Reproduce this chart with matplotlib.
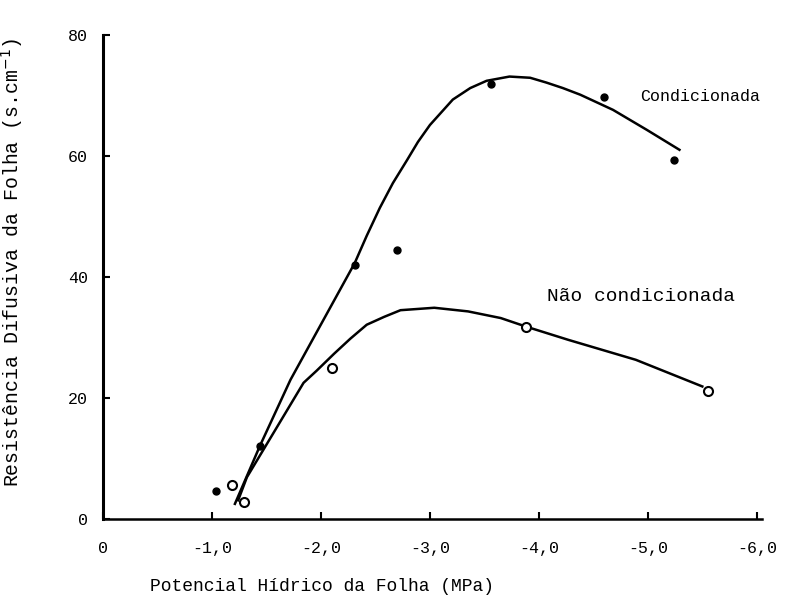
import matplotlib
matplotlib.use("Agg")
import matplotlib.pyplot as plt

plt.rcParams['font.family'] = ['Liberation Mono', 'DejaVu Sans Mono']

# pontos medidos
cond_x = [-1.04, -1.44, -2.31, -2.70, -3.56, -4.60, -5.24]
cond_y = [4.6, 12.0, 42.0, 44.4, 71.8, 69.7, 59.3]
nao_x = [-1.18, -1.29, -2.10, -3.88, -5.55]
nao_y = [5.7, 2.8, 25.0, 31.8, 21.2]

# curvas ajustadas (tracadas a mao no original)
cond_cx = [-1.21, -1.44, -1.72, -2.31, -2.42, -2.54, -2.66, -2.79, -2.89,
           -3.00, -3.11, -3.21, -3.37, -3.52, -3.73, -3.92, -4.07, -4.22,
           -4.38, -4.68, -4.99, -5.29]
cond_cy = [2.5, 12.1, 23.0, 42.3, 46.8, 51.4, 55.5, 59.3, 62.3,
           65.1, 67.3, 69.3, 71.2, 72.4, 73.1, 72.9, 72.1, 71.2,
           70.1, 67.6, 64.3, 61.0]
nao_cx = [-1.24, -1.32, -1.58, -1.84, -1.96, -2.12, -2.27, -2.42, -2.58,
          -2.73, -3.04, -3.35, -3.65, -3.88, -4.27, -4.89, -5.50]
nao_cy = [3.1, 6.9, 14.7, 22.5, 24.5, 27.3, 29.8, 32.1, 33.4,
          34.5, 34.9, 34.3, 33.2, 31.8, 29.6, 26.3, 21.9]

xticks = [0, -1, -2, -3, -4, -5, -6]
xlabels = ['0', '-1,0', '-2,0', '-3,0', '-4,0', '-5,0', '-6,0']
yticks = [0, 20, 40, 60, 80]

fig = plt.figure(figsize=(7.99, 6.0), dpi=100)
ax = fig.add_axes([0.129, 0.135, 0.825, 0.807])

ax.plot(cond_cx, cond_cy, color='black', lw=1.8, solid_joinstyle='round')
ax.plot(nao_cx, nao_cy, color='black', lw=1.8, solid_joinstyle='round')
ax.plot(cond_x, cond_y, 'o', color='black', ms=5)
ax.plot(nao_x, nao_y, 'o', mfc='white', mec='black', mew=1.5, ms=6.5)

ax.text(-4.93, 69.8, 'Condicionada', fontsize=12, va='center')
ax.text(-4.07, 36.7, 'Não condicionada', fontsize=14, va='center')

ax.set_xlim(0, -6.05)
ax.set_ylim(0, 80)
ax.set_xticks(xticks)
ax.set_xticklabels(xlabels)
ax.set_yticks(yticks)
ax.tick_params(direction='in', length=5, width=1.5, labelsize=12)
ax.tick_params(axis='y', pad=11)
ax.tick_params(axis='x', pad=16)

for s in ['top', 'right']:
    ax.spines[s].set_visible(False)
ax.spines['left'].set_linewidth(2.2)
ax.spines['bottom'].set_linewidth(1.8)

ax.set_xlabel('Potencial Hídrico da Folha (MPa)', fontsize=13)
ax.xaxis.set_label_coords(0.332, -0.122)
ax.set_ylabel('Resistência Difusiva da Folha (s.cm$^{-1}$)', fontsize=14.3)
ax.yaxis.set_label_coords(-0.118, 0.53)

fig.savefig('out.png', dpi=100)
